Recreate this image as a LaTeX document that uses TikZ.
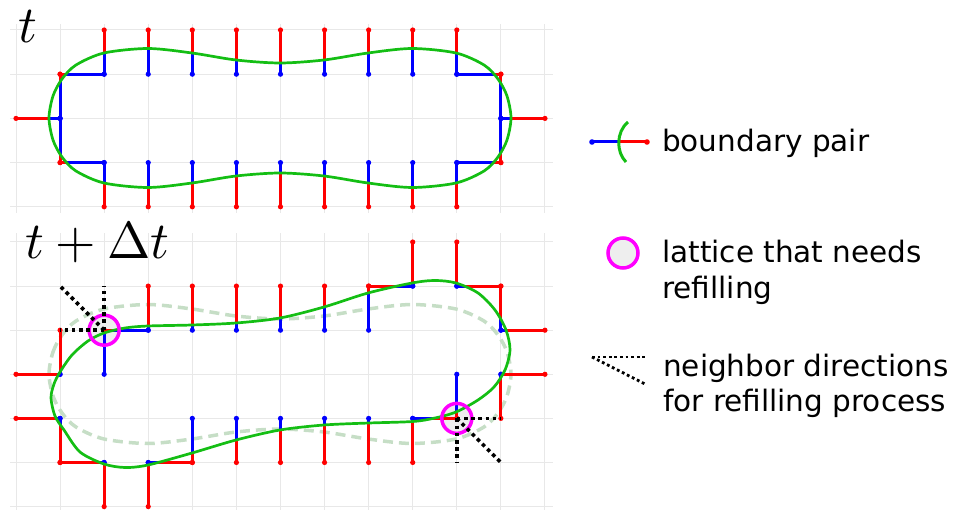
\documentclass[tikz,border=0pt]{standalone}
\usepackage[no-math]{fontspec}
\newfontfamily\dejavu{DejaVu Sans}
\definecolor{gridc}{RGB}{232,232,232}
\definecolor{curvec}{RGB}{20,190,20}
\definecolor{oldc}{RGB}{198,222,198}
\definecolor{ringc}{RGB}{255,0,255}
\definecolor{fillc}{RGB}{238,238,238}
\newcommand\curveTop{plot[smooth cycle] coordinates {(49,118) (53,96) (62,79) (76,65) (104,53) (148,48.5) (192,53) (236,60) (280,63) (324,60) (368,53) (412,48.5) (456,53) (484,65) (498,79) (507,96) (511,118) (507,140) (498,157) (484,171) (456,183) (412,187.5) (368,183) (324,176) (280,173) (236,176) (192,183) (148,187.5) (104,183) (76,171) (62,157) (53,140)}}
\newcommand\curveBot{plot[smooth cycle] coordinates {(51,398) (54,384) (60,372) (72,355) (88,341) (104,333) (125,328) (148,326) (192,325) (236,323) (280,318) (324,307) (368,293) (412,283) (435,280.5) (456,283) (478,293) (495,310) (506,330) (510,350) (505,370) (494,387) (478,400) (456,412) (435,418) (413,421.5) (369,423) (324,425) (280,430) (236,440) (192,453) (148,465) (125,467.5) (104,464) (80,452) (64,430) (55,416)}}
\tikzset{
  gridline/.style={draw=gridc, line width=1},
  redseg/.style={draw=red, line width=3},
  blueseg/.style={draw=blue, line width=3},
  reddot/.style={fill=red},
  bluedot/.style={fill=blue},
  newcurve/.style={draw=curvec, line width=2.7},
  oldcurve/.style={draw=oldc, line width=3.5, dash pattern=on 10 off 6},
  ring/.style={draw=ringc, line width=3.5},
  ringfill/.style={fill=fillc},
  nbdots/.style={draw=black, line width=3.6, dash pattern=on 3.6 off 3.6},
  nbdotsleg/.style={draw=black, line width=2.8, dash pattern=on 2.8 off 2.8},
  legtext/.style={anchor=base west, inner sep=0, font=\dejavu\fontsize{29.5}{35}\selectfont},
  mathlabel/.style={anchor=base west, inner sep=0, scale=5.2}
}
\begin{document}
\begin{tikzpicture}[x=1pt, y=-1pt]
\useasboundingbox (0,0) rectangle (956,510);
% lattice coordinates
\foreach \i in {0,...,12}{
  \foreach \j in {0,...,4}{\coordinate (T\i-\j) at ({16+44.08*\i},{30+44.2*\j});}
  \foreach \j in {0,...,6}{\coordinate (B\i-\j) at ({16+44.08*\i},{242+44.1*\j});}
}
% grids
\foreach \j in {0,...,4}{\path[gridline] (10,{30+44.2*\j}) -- (553,{30+44.2*\j});}
\foreach \i in {0,...,12}{\path[gridline] ({16+44.08*\i},24) -- ({16+44.08*\i},213);}
\foreach \j in {0,...,6}{\path[gridline] (10,{242+44.1*\j}) -- (553,{242+44.1*\j});}
\foreach \i in {0,...,12}{\path[gridline] ({16+44.08*\i},233) -- ({16+44.08*\i},510);}
% labels
\node[mathlabel] (lt) at (17,43) {$t$};
\node[mathlabel] (ltd) at (24,259) {$t+\Delta t$};
% old curve (dashed)
\path[oldcurve, shift={(0,256)}] \curveTop;
% refill circles fill
\path[ringfill] (B2-2) circle (15);
\path[ringfill] (B10-4) circle (15);
% pairs: inside point / outside point
\def\pairsTop{2/1/2/0,3/1/3/0,4/1/4/0,5/1/5/0,6/1/6/0,7/1/7/0,8/1/8/0,9/1/9/0,10/1/10/0,2/3/2/4,3/3/3/4,4/3/4/4,5/3/5/4,6/3/6/4,7/3/7/4,8/3/8/4,9/3/9/4,10/3/10/4,2/1/1/1,1/2/1/1,1/2/0/2,1/2/1/3,2/3/1/3,10/1/11/1,11/2/11/1,11/2/12/2,11/2/11/3,10/3/11/3}
\def\pairsBot{3/2/3/1,4/2/4/1,5/2/5/1,6/2/6/1,7/2/7/1,8/2/8/1,3/2/2/2,2/3/2/2,1/3/1/2,1/3/0/3,1/4/0/4,1/4/1/5,2/5/1/5,2/5/2/6,3/5/3/6,3/5/4/5,4/4/4/5,5/4/5/5,6/4/6/5,7/4/7/5,8/4/8/5,9/4/9/5,9/4/10/4,10/3/10/4,11/3/12/3,11/3/11/4,11/2/12/2,11/2/11/1,10/1/11/1,10/1/10/0,9/1/9/0,9/1/8/1}
\foreach \a/\b/\c/\d in \pairsTop {\draw[redseg] (T\a-\b) -- (T\c-\d);}
\begin{scope}
  \clip \curveTop;
  \foreach \a/\b/\c/\d in \pairsTop {\draw[blueseg] (T\a-\b) -- (T\c-\d);}
\end{scope}
\foreach \a/\b/\c/\d in \pairsBot {\draw[redseg] (B\a-\b) -- (B\c-\d);}
\begin{scope}
  \clip \curveBot;
  \foreach \a/\b/\c/\d in \pairsBot {\draw[blueseg] (B\a-\b) -- (B\c-\d);}
\end{scope}
\foreach \a/\b/\c/\d in \pairsTop {\path[bluedot] (T\a-\b) circle (2.6); \path[reddot] (T\c-\d) circle (2.6);}
\foreach \a/\b/\c/\d in \pairsBot {\path[bluedot] (B\a-\b) circle (2.6); \path[reddot] (B\c-\d) circle (2.6);}
% curves
\path[newcurve] \curveTop;
\path[newcurve] \curveBot;
% refill rings
\path[ring] (B2-2) circle (15);
\path[ring] (B10-4) circle (15);
% neighbor directions
\draw[nbdots] (B2-2) -- (B1-2);
\draw[nbdots] (B2-2) -- (B2-1);
\draw[nbdots] (B2-2) -- (B1-1);
\draw[nbdots] (B10-4) -- (B11-4);
\draw[nbdots] (B10-4) -- (B10-5);
\draw[nbdots] (B10-4) -- (B11-5);
% legend: boundary pair
\coordinate (lgb) at (592,142);
\coordinate (lgm) at (619,142);
\coordinate (lgr) at (647,142);
\coordinate (lga) at (628,122);
\coordinate (lgz) at (626,162);
\draw[draw=blue, line width=3] (lgb) -- (lgm);
\draw[draw=red, line width=3] (lgm) -- (lgr);
\path[bluedot] (lgb) circle (2.8);
\path[reddot] (lgr) circle (2.8);
\draw[draw=curvec, line width=3] (lga) .. controls (616,132) and (616,152) .. (lgz);
\node[legtext] (t1) at (662,152) {boundary pair};
% legend: circle
\coordinate (lgc) at (623,253);
\path[ringfill, ring] (lgc) circle (15);
\node[legtext] (t2) at (662,263) {lattice that needs};
\node[legtext] (t3) at (662,299) {refilling};
% legend: dotted
\coordinate (lgd) at (592,357);
\coordinate (lgdh) at (647,357);
\coordinate (lgdd) at (645,384);
\draw[nbdotsleg] (lgd) -- (lgdh);
\draw[nbdotsleg] (lgd) -- (lgdd);
\node[legtext] (t4) at (663,377) {neighbor directions};
\node[legtext] (t5) at (663,412) {for refilling process};
\end{tikzpicture}
\end{document}
